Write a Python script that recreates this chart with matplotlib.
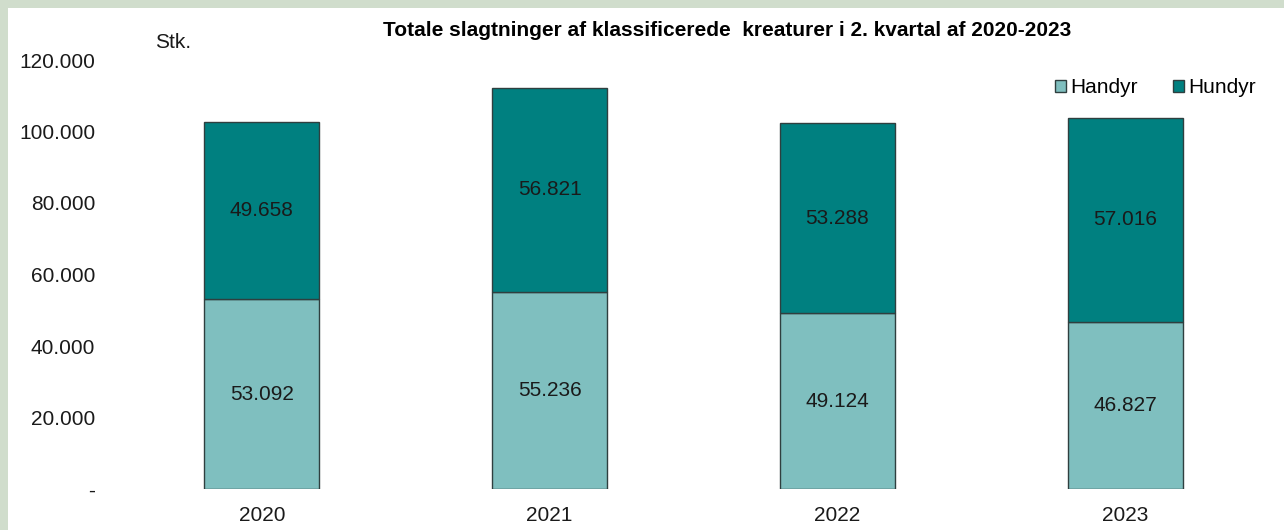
import numpy as np
import matplotlib.pyplot as plt
from matplotlib.patches import Rectangle

years = ['2020', '2021', '2022', '2023']
handyr = [53092, 55236, 49124, 46827]
hundyr = [49658, 56821, 53288, 57016]
yticks = [0, 20000, 40000, 60000, 80000, 100000, 120000]
ytick_labels = ['-', '20.000', '40.000', '60.000', '80.000', '100.000', '120.000']

def fmt(v):
    return f'{v:,}'.replace(',', '.')

plt.rcParams['font.family'] = ['Liberation Sans', 'DejaVu Sans']

fig = plt.figure(figsize=(12.84, 5.30), dpi=100)
fig.patch.set_facecolor('white')
# green frame on top and left
fig.patches.append(Rectangle((0, 1 - 8 / 530), 1, 8 / 530, transform=fig.transFigure,
                             facecolor='#d0ddcc', edgecolor='none'))
fig.patches.append(Rectangle((0, 0), 8 / 1284, 1, transform=fig.transFigure,
                             facecolor='#d0ddcc', edgecolor='none'))

ax = fig.add_axes([118 / 1284, 1 - 489 / 530, (1269 - 118) / 1284, (489 - 60) / 530])

x = np.arange(len(years))
c_han = '#7fbfbf'
c_hun = '#008080'
ax.bar(x, handyr, width=0.40, color=c_han, edgecolor='#2f3f3f', linewidth=1, label='Handyr')
ax.bar(x, hundyr, width=0.40, bottom=handyr, color=c_hun, edgecolor='#2f3f3f', linewidth=1, label='Hundyr')

for i in range(len(years)):
    ax.text(x[i], handyr[i] / 2, fmt(handyr[i]), ha='center', va='center', fontsize=15, color='#1a1a1a')
    ax.text(x[i], handyr[i] + hundyr[i] / 2, fmt(hundyr[i]), ha='center', va='center', fontsize=15, color='#1a1a1a')

ax.set_xlim(-0.5, len(years) - 0.5)
ax.set_ylim(0, 120000)
ax.set_yticks(yticks)
ax.set_yticklabels(ytick_labels, fontsize=15, color='#1a1a1a')
ax.set_xticks(x)
ax.set_xticklabels(years, fontsize=15, color='#1a1a1a')
ax.tick_params(axis='y', length=0, pad=16.5)
ax.tick_params(axis='x', length=0, pad=12)
for s in ax.spines.values():
    s.set_visible(False)

fig.text(173 / 1284, 1 - 42 / 530, 'Stk.', ha='center', va='center', fontsize=15, color='#1a1a1a')
fig.text(727 / 1284, 1 - 30 / 530, 'Totale slagtninger af klassificerede  kreaturer i 2. kvartal af 2020-2023',
         ha='center', va='center', fontsize=15, fontweight='bold', color='black')

ax.legend(loc='upper right', bbox_to_anchor=((1264 - 118) / 1151, 1 - 10 / 429), ncol=2, frameon=False, fontsize=15,
          handlelength=0.53, handleheight=0.53, handletextpad=0.2, columnspacing=1.7, borderaxespad=0)

fig.savefig('out.png', dpi=100)
